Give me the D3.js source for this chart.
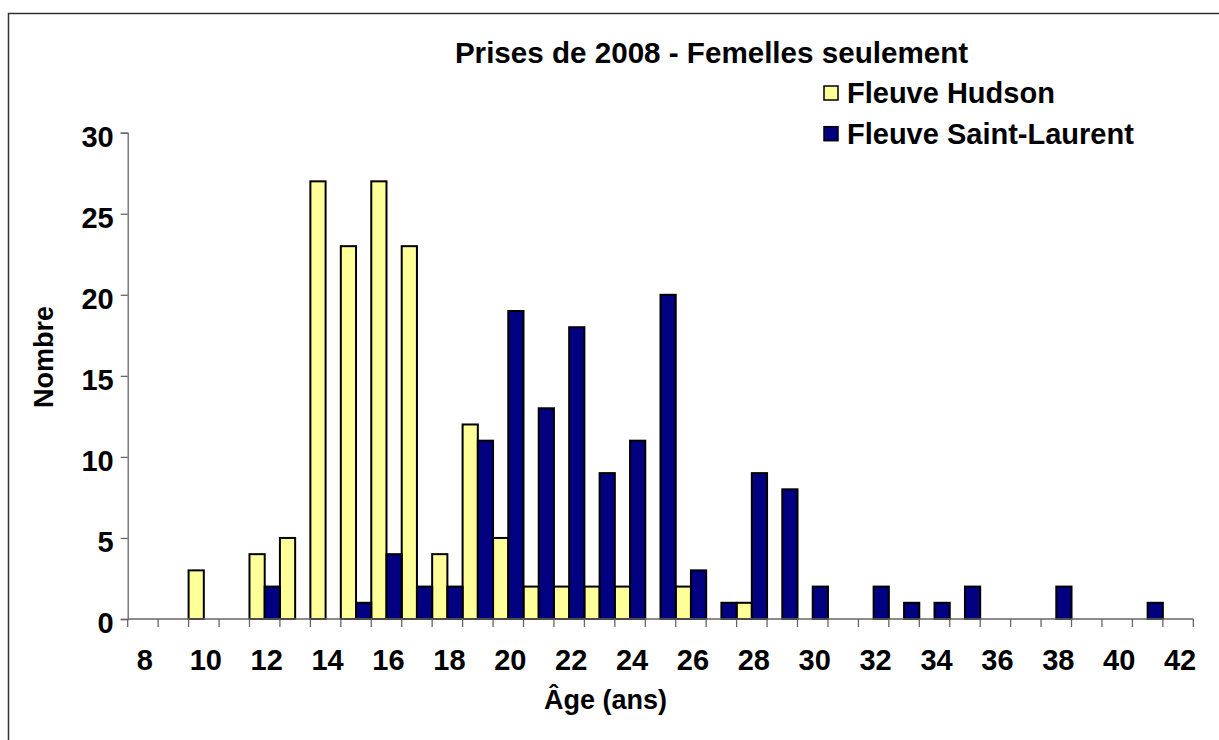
<!DOCTYPE html>
<html>
<head>
<meta charset="utf-8">
<script src="https://cdn.jsdelivr.net/npm/d3@7"></script>
<style>
  body { margin: 0; background: #fff; }
  svg text { font-family: "Liberation Sans", Arial, sans-serif; font-weight: bold; fill: #000; }
</style>
</head>
<body>
<div id="chart"></div>
<script>
// ages (categories) and counts
var ages = [8, 9, 10, 11, 12, 13, 14, 15, 16, 17, 18, 19, 20, 21, 22, 23, 24, 25,
    26, 27, 28, 29, 30, 31, 32, 33, 34, 35, 36, 37, 38, 39, 40, 41, 42];
var hudson = [0, 0, 3, 0, 4, 5, 27, 23, 27, 23, 4, 12, 5, 2, 2, 2, 2, 0,
    2, 0, 1, 0, 0, 0, 0, 0, 0, 0, 0, 0, 0, 0, 0, 0, 0];
var saintLaurent = [0, 0, 0, 0, 2, 0, 0, 1, 4, 2, 2, 11, 19, 13, 18, 9, 11, 20,
    3, 1, 9, 8, 2, 0, 2, 1, 1, 2, 0, 0, 2, 0, 0, 1, 0];
var xLabels = [8, 10, 12, 14, 16, 18, 20, 22, 24, 26, 28, 30, 32, 34, 36, 38, 40, 42];
var yTicks = [0, 5, 10, 15, 20, 25, 30];
var seriesNames = ["Fleuve Hudson", "Fleuve Saint-Laurent"];
var seriesColors = ["#FFFF99", "#000080"];

let chart = {
    width: 1219,
    height: 740,
    left: 127.7,
    right: 1193.3,
    top: 132.7,
    bottom: 619
};

var svg = d3.select("#chart")
    .append("svg")
    .attr("width", chart.width)
    .attr("height", chart.height);

// outer frame (cut off on the right and bottom)
svg.append("rect")
    .attr("x", 8.5).attr("y", 13.5)
    .attr("width", 1240).attr("height", 760)
    .attr("fill", "none")
    .attr("stroke", "#333")
    .attr("stroke-width", 1.5);

var xscale = d3.scaleBand()
    .domain(ages)
    .range([chart.left, chart.right])
    .padding(0);

var yscale = d3.scaleLinear()
    .domain([0, 30])
    .range([chart.bottom, chart.top]);

var bw = xscale.bandwidth() / 2;

// bars
var series = [hudson, saintLaurent];
series.forEach(function(values, s) {
    var rows = ages.map(function(a, i) { return { age: a, v: values[i] }; })
        .filter(function(d) { return d.v > 0; });
    svg.append("g")
        .selectAll("rect")
        .data(rows)
        .enter()
        .append("rect")
        .attr("x", function(d) { return xscale(d.age) + s * bw; })
        .attr("y", function(d) { return yscale(d.v); })
        .attr("width", bw)
        .attr("height", function(d) { return yscale(0) - yscale(d.v); })
        .attr("fill", seriesColors[s])
        .attr("stroke", "#000")
        .attr("stroke-width", 2);
});

// y axis
var yaxis = d3.axisLeft(yscale)
    .tickValues(yTicks)
    .tickSize(7)
    .tickPadding(7);

var gy = svg.append("g")
    .attr("transform", "translate(" + chart.left + ",0)")
    .call(yaxis);
gy.select(".domain").attr("stroke", "#666").attr("stroke-width", 1.3);
gy.selectAll(".tick line").attr("stroke", "#666").attr("stroke-width", 1.3);
gy.selectAll("text")
    .style("font-size", "29px")
    .attr("dy", "0.46em");

// x axis: labels at category centres, ticks at category boundaries
var xaxis = d3.axisBottom(xscale)
    .tickValues(xLabels)
    .tickSize(0)
    .tickPadding(0);

var gx = svg.append("g")
    .attr("transform", "translate(0," + chart.bottom + ")")
    .call(xaxis);
gx.select(".domain").attr("stroke", "#666").attr("stroke-width", 1.3)
    .attr("d", "M" + chart.left + ",0H" + chart.right);
gx.selectAll("text")
    .style("font-size", "29px")
    .attr("y", 51)
    .attr("dy", 0)
    .attr("x", 2);

var bounds = ages.map(function(a) { return xscale(a); }).concat([chart.right]);
gx.append("g")
    .selectAll("line")
    .data(bounds)
    .enter()
    .append("line")
    .attr("x1", function(d) { return d; })
    .attr("x2", function(d) { return d; })
    .attr("y1", 0)
    .attr("y2", 8)
    .attr("stroke", "#666")
    .attr("stroke-width", 1.3);

// titles
svg.append("text")
    .attr("x", 711.5).attr("y", 63)
    .attr("text-anchor", "middle")
    .style("font-size", "29.6px")
    .text("Prises de 2008 - Femelles seulement");

svg.append("text")
    .attr("x", 605.5).attr("y", 709)
    .attr("text-anchor", "middle")
    .style("font-size", "27px")
    .text("Âge (ans)");

svg.append("text")
    .attr("transform", "translate(53,357) rotate(-90)")
    .attr("text-anchor", "middle")
    .style("font-size", "27px")
    .text("Nombre");

// legend
var legend = svg.append("g");
seriesNames.forEach(function(name, i) {
    var y0 = 86 + i * 40.7;
    legend.append("rect")
        .attr("x", 824).attr("y", y0)
        .attr("width", 14).attr("height", 14)
        .attr("fill", seriesColors[i])
        .attr("stroke", "#000")
        .attr("stroke-width", 1.5);
    legend.append("text")
        .attr("x", 847).attr("y", y0 + 17.3)
        .style("font-size", "29px")
        .text(name);
});
</script>
</body>
</html>
